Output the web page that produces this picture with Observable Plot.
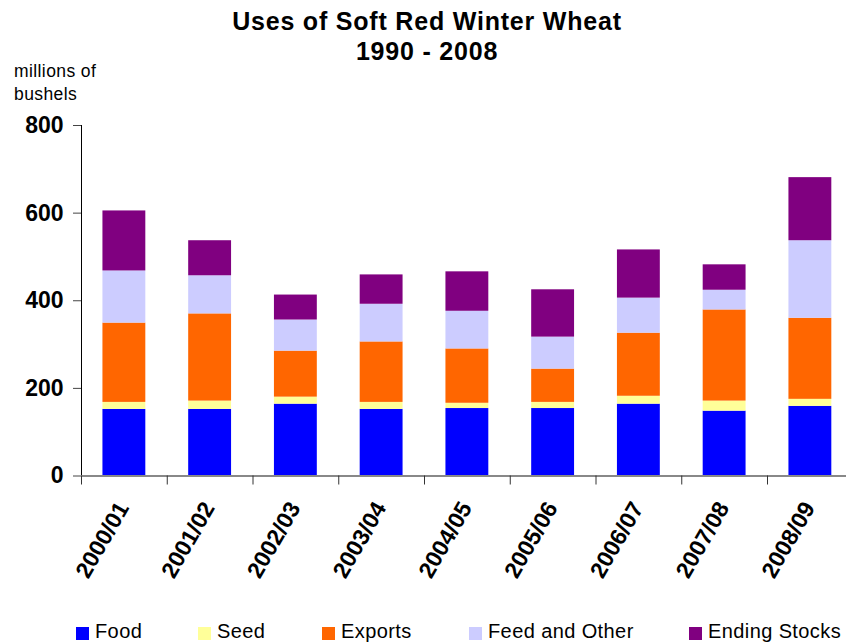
<!DOCTYPE html>
<html>
<head>
<meta charset="utf-8">
<script src="https://cdn.jsdelivr.net/npm/d3@7"></script>
<script src="https://cdn.jsdelivr.net/npm/@observablehq/plot@0.6"></script>
<style>
  body { margin: 0; background: #fff; font-family: "Liberation Sans", Arial, sans-serif; color: #000; }
  #wrap { position: relative; width: 846px; height: 643px; overflow: hidden; background: #fff; }
  #title { position: absolute; top: 6px; left: 4px; width: 846px; text-align: center; font-weight: bold; font-size: 25px; line-height: 30px; letter-spacing: 0.8px; }
  #ylab { position: absolute; top: 60px; left: 14px; font-size: 17.5px; line-height: 22.5px; letter-spacing: 0.4px; }
  #chart { position: absolute; top: 100px; left: 0; }
  #legend { position: absolute; top: 620px; left: 0; width: 846px; height: 23px; }
  .item { position: absolute; top: 0; display: flex; align-items: center; height: 23px; font-size: 20px; letter-spacing: 0.4px; white-space: nowrap; }
  .sw { width: 13px; height: 13px; margin-right: 6px; margin-top: 3px; }
  #chart svg text { font-family: "Liberation Sans", Arial, sans-serif; }
</style>
</head>
<body>
<div id="wrap">
  <div id="title">Uses of Soft Red Winter Wheat<br>1990 - 2008</div>
  <div id="ylab">millions of<br>bushels</div>
  <div id="chart"></div>
  <div id="legend"></div>
</div>
<script>
// ---- data (millions of bushels) ----
const years = ["2000/01", "2001/02", "2002/03", "2003/04", "2004/05", "2005/06", "2006/07", "2007/08", "2008/09"];
const food = [152, 152, 164, 152, 154, 154, 164, 148, 159];
const seed = [16, 19, 16, 16, 12, 14, 18, 23, 16];
const exportsUse = [181, 199, 105, 138, 124, 76, 144, 208, 185];
const feedOther = [119, 87, 71, 86, 86, 73, 80, 45, 177];
const endingStocks = [137, 80, 57, 67, 90, 108, 110, 58, 144];
const seriesNames = ["Food", "Seed", "Exports", "Feed and Other", "Ending Stocks"];
const seriesColors = ["#0000FF", "#FFFF99", "#FF6600", "#CCCCFF", "#800080"];
const yTicks = [0, 200, 400, 600, 800];

const seriesValues = [food, seed, exportsUse, feedOther, endingStocks];
const rows = [];
seriesNames.forEach((s, si) => {
  years.forEach((yr, i) => rows.push({year: yr, series: s, value: seriesValues[si][i]}));
});

const W = 846, H = 520;
const xRange = [81, 852.75];
const step = (xRange[1] - xRange[0]) / years.length;

const chart = Plot.plot({
  width: W,
  height: H,
  marginTop: 25,
  marginBottom: 144.5,
  marginLeft: 81,
  marginRight: 0,
  style: {fontFamily: "'Liberation Sans', Arial, sans-serif", fontSize: "20px", color: "#000", background: "transparent"},
  x: {domain: years, range: xRange, paddingInner: 0.5, paddingOuter: 0.25, round: false, label: null},
  y: {domain: [0, 800], label: null},
  color: {domain: seriesNames, range: seriesColors},
  marks: [
    Plot.barY(rows, {x: "year", y: "value", fill: "series", order: seriesNames}),
    Plot.frame({anchor: "left", stroke: "#000", strokeWidth: 1}),
    Plot.axisY({ticks: yTicks, tickSize: 8, tickPadding: 10, fontSize: 23, fontWeight: "bold", stroke: "#444", label: null}),
    Plot.ruleY([0], {stroke: "#888", strokeWidth: 2}),
    Plot.ruleX(years, {x: d => d, y1: 0, y2: 0, dx: -step / 2, insetBottom: -9, stroke: "#333"}),
    Plot.axisX({tickSize: 0, tickRotate: -60, tickPadding: 28, dx: -1, fontSize: 23, fontWeight: "bold", label: null})
  ]
});
document.getElementById("chart").appendChild(chart);

// ---- legend ----
const legendX = [76, 198, 322, 469, 689];
const legend = document.getElementById("legend");
seriesNames.forEach((s, i) => {
  const it = document.createElement("div");
  it.className = "item";
  it.style.left = legendX[i] + "px";
  const sw = document.createElement("div");
  sw.className = "sw";
  sw.style.background = seriesColors[i];
  it.appendChild(sw);
  it.appendChild(document.createTextNode(s));
  legend.appendChild(it);
});
</script>
</body>
</html>
